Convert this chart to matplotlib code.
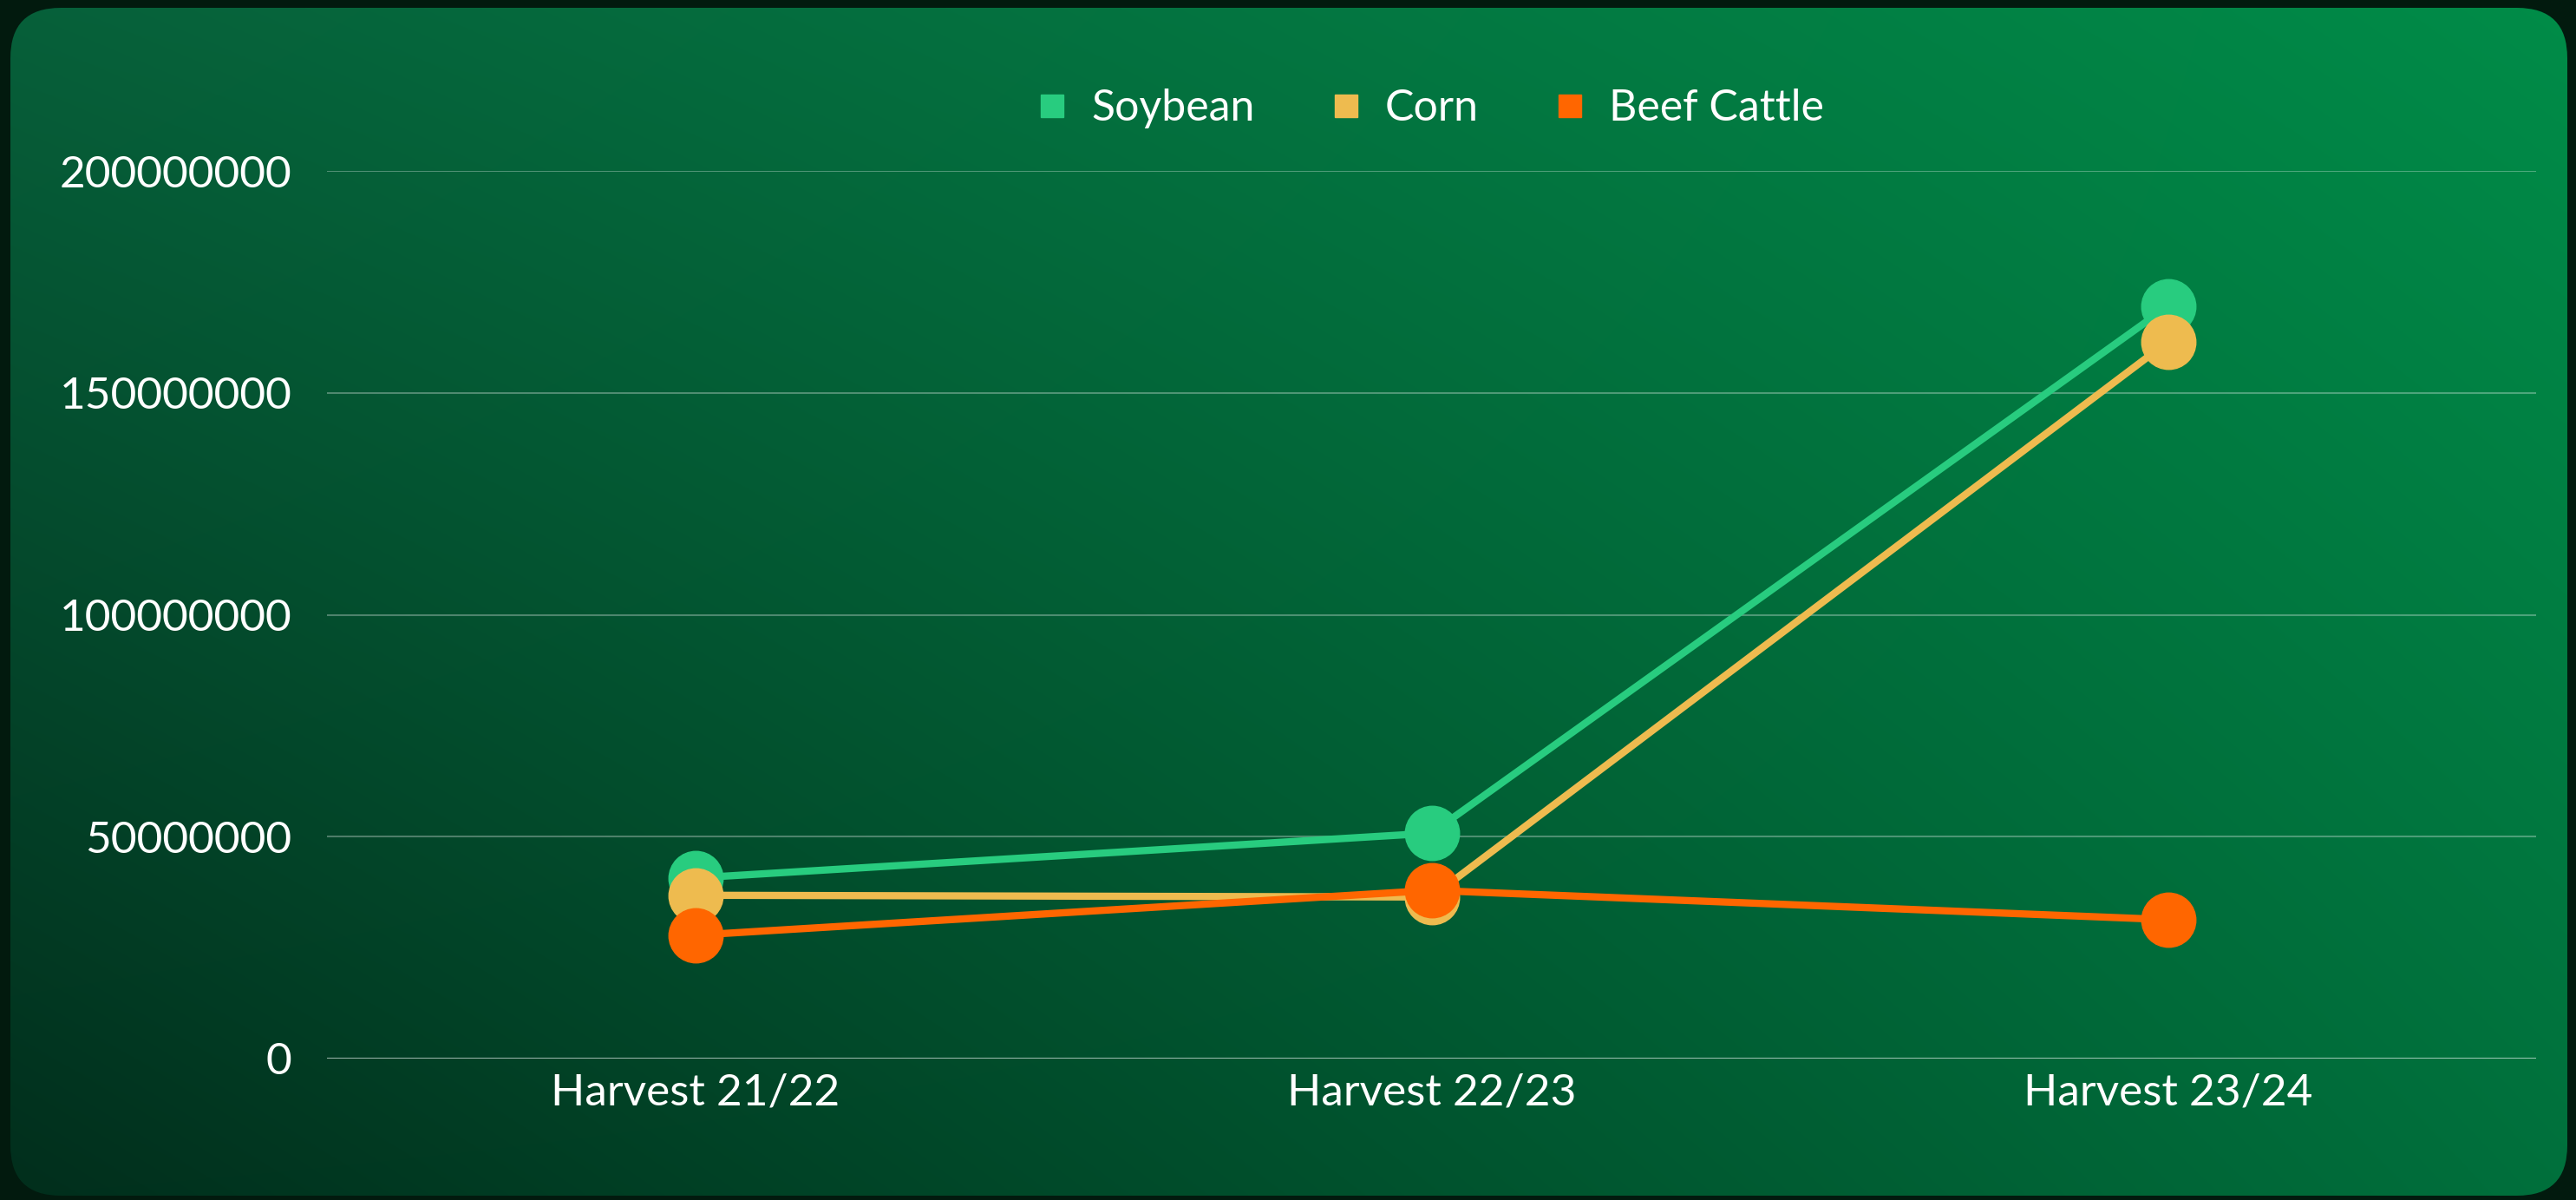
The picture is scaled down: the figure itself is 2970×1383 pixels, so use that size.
import numpy as np
import matplotlib.pyplot as plt
from matplotlib.patches import FancyBboxPatch
from matplotlib.lines import Line2D
from matplotlib.colors import to_rgb
from matplotlib.ticker import FuncFormatter

# ------------------------------------------------------------
#  DATA
# ------------------------------------------------------------
categories  = ['Harvest 21/22', 'Harvest 22/23', 'Harvest 23/24']
soybean     = [40.7e6, 50.8e6, 169.5e6]
corn        = [36.8e6, 36.4e6, 161.5e6]
beef_cattle = [27.8e6, 37.9e6, 31.3e6]
y_ticks     = [0, 50000000, 100000000, 150000000, 200000000]

series_names  = ['Soybean', 'Corn', 'Beef Cattle']
series_colors = ['#28cc7f', '#eebb4f', '#ff6600']

plt.rcParams['font.family'] = ['Lato', 'DejaVu Sans']
W, H = 2970, 1383
FS = 37

fig = plt.figure(figsize=(W / 100, H / 100), dpi=100)
fig.patch.set_facecolor('#021a0e')

# ------------------------------------------------------------
#  Background card (rounded, diagonal green gradient)
# ------------------------------------------------------------
bg = fig.add_axes([0, 0, 1, 1])
bg.set_xlim(0, W)
bg.set_ylim(H, 0)
bg.axis('off')

tl, tr = np.array(to_rgb('#07603a')), np.array(to_rgb('#008c48'))
bl, br = np.array(to_rgb('#012e1c')), np.array(to_rgb('#00703c'))
u = np.linspace(0, 1, 300)[None, :, None]
v = np.linspace(0, 1, 140)[:, None, None]
grad = (1 - u) * (1 - v) * tl + u * (1 - v) * tr + (1 - u) * v * bl + u * v * br

card = FancyBboxPatch((12, 9), 2948, 1369, boxstyle='round,pad=0,rounding_size=58',
                      facecolor='none', edgecolor='none')
bg.add_patch(card)
im = bg.imshow(grad, extent=(0, W, H, 0), aspect='auto', interpolation='bilinear')
im.set_clip_path(card)

# ------------------------------------------------------------
#  Chart
# ------------------------------------------------------------
ax = fig.add_axes([377 / W, (H - 1220) / H, 2547 / W, 1023 / H])
ax.set_facecolor('none')
for s in ax.spines.values():
    s.set_visible(False)

x = np.arange(len(categories))
for vals, name, col in zip([soybean, corn, beef_cattle], series_names, series_colors):
    ax.plot(x, vals, color=col, lw=6, marker='o', ms=45, mec=col,
            label=name, clip_on=False, zorder=3)

ax.set_xlim(-0.5, len(categories) - 0.5)
ax.set_ylim(0, 200e6)
ax.set_yticks(y_ticks)
ax.yaxis.set_major_formatter(FuncFormatter(lambda v, p: f'{int(v)}'))
ax.set_xticks(x)
ax.set_xticklabels(categories)
ax.grid(axis='y', color='white', alpha=0.3, lw=1.5)
ax.axhline(0, color='white', alpha=0.5, lw=2)
ax.set_axisbelow(True)
ax.tick_params(axis='y', length=0, pad=29, labelsize=FS, labelcolor='white')
ax.tick_params(axis='x', length=0, pad=12, labelsize=FS, labelcolor='white')

handles = [Line2D([], [], ls='none', marker='s', ms=19, color=c) for c in series_colors]
ax.legend(handles, series_names, loc='center', bbox_to_anchor=(0.5, 1.07),
          ncol=3, frameon=False, fontsize=36, handlelength=0.6,
          handletextpad=0.6, columnspacing=1.8, labelcolor='white')

fig.savefig('out.png', dpi=100, facecolor=fig.get_facecolor())
